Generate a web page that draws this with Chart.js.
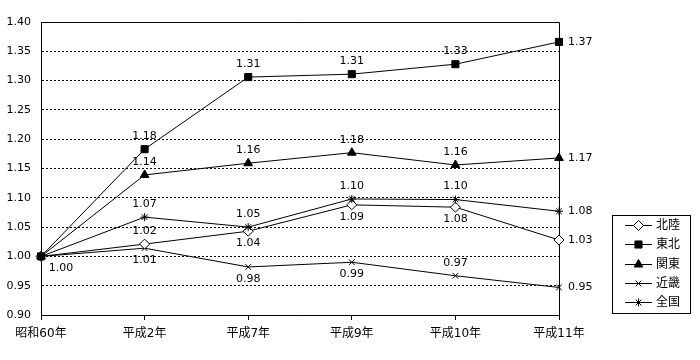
<!DOCTYPE html>
<html><head><meta charset="utf-8">
<script src="https://cdn.jsdelivr.net/npm/chart.js@4/dist/chart.umd.min.js"></script>
<style>html,body{margin:0;padding:0;background:#fff}#wrap{width:700px;height:360px;position:relative}</style>
</head><body><div id="wrap"><canvas id="c"></canvas></div>
<script>
// ---- data ----
const categories = ['昭和60年', '平成2年', '平成7年', '平成9年', '平成10年', '平成11年'];
const seriesNames = ['北陸', '東北', '関東', '近畿', '全国'];
const hokuriku = [1.00, 1.021, 1.043, 1.088, 1.084, 1.028];
const tohoku   = [1.00, 1.183, 1.306, 1.311, 1.328, 1.366];
const kanto    = [1.00, 1.139, 1.159, 1.177, 1.156, 1.168];
const kinki    = [1.00, 1.014, 0.982, 0.990, 0.967, 0.947];
const zenkoku  = [1.00, 1.067, 1.050, 1.098, 1.097, 1.077];
const yMin = 0.90, yMax = 1.40, yStep = 0.05;

// ---- style ----
const NUM_FONT = '11px "DejaVu Sans", "Noto Sans CJK JP", sans-serif';
const JP_FONT = '12px "DejaVu Sans", "Noto Sans CJK JP", sans-serif';
const styles = [
  {pointStyle: 'rectRot', radius: 5, fill: '#ffffff', order: 1},
  {pointStyle: 'rect', radius: 5, fill: '#000000', order: -1},
  {pointStyle: 'triangle', radius: 5, fill: '#000000', order: 2},
  {pointStyle: 'crossRot', radius: 4, fill: '#000000', order: 3},
  {pointStyle: 'star', radius: 4, fill: '#000000', order: 0}
];
const labelPos = [
  ['belowright', 'above', 'below', 'below', 'below', 'right'],
  [null, 'above', 'above', 'above', 'above', 'right'],
  [null, 'above', 'above', 'above', 'above', 'right'],
  [null, 'below', 'below', 'below', 'above', 'right'],
  [null, 'above', 'above', 'above', 'above', 'right']
];
const allSeries = [hokuriku, tohoku, kanto, kinki, zenkoku];

const datasets = allSeries.map((vals, i) => ({
  label: seriesNames[i],
  data: vals,
  order: styles[i].order,
  borderColor: '#000',
  borderWidth: 1,
  backgroundColor: styles[i].fill,
  pointStyle: styles[i].pointStyle,
  pointRadius: styles[i].radius,
  pointHoverRadius: styles[i].radius,
  pointBackgroundColor: styles[i].fill,
  pointBorderColor: '#000',
  pointBorderWidth: 1,
  tension: 0,
  clip: false,
  fill: false
}));

const framePlugin = {
  id: 'frame',
  beforeDatasetsDraw(chart) {
    const {ctx, chartArea: a} = chart;
    ctx.save();
    ctx.strokeStyle = '#000';
    ctx.lineWidth = 1;
    ctx.beginPath();
    ctx.moveTo(Math.round(a.left) + 0.5, Math.round(a.bottom) + 0.5);
    ctx.lineTo(Math.round(a.left) + 0.5, Math.round(a.top) + 0.5);
    ctx.lineTo(Math.round(a.right) + 0.5, Math.round(a.top) + 0.5);
    ctx.lineTo(Math.round(a.right) + 0.5, Math.round(a.bottom) + 0.5);
    ctx.stroke();
    ctx.restore();
  }
};

const labelPlugin = {
  id: 'valueLabels',
  afterDatasetsDraw(chart) {
    const ctx = chart.ctx;
    ctx.save();
    ctx.font = NUM_FONT;
    ctx.fillStyle = '#000';
    chart.data.datasets.forEach((ds, i) => {
      const meta = chart.getDatasetMeta(i);
      meta.data.forEach((pt, j) => {
        const pos = labelPos[i][j];
        if (!pos) return;
        const txt = ds.data[j].toFixed(2);
        let x = pt.x, y = pt.y;
        if (pos === 'above') { ctx.textAlign = 'center'; ctx.textBaseline = 'middle'; y -= 13; }
        else if (pos === 'below') { ctx.textAlign = 'center'; ctx.textBaseline = 'middle'; y += 12; }
        else if (pos === 'right') { ctx.textAlign = 'left'; ctx.textBaseline = 'middle'; x += 9; }
        else if (pos === 'belowright') { ctx.textAlign = 'center'; ctx.textBaseline = 'middle'; x += 20; y += 12; }
        ctx.fillText(txt, x, y);
      });
    });
    ctx.restore();
  }
};

const legendPlugin = {
  id: 'boxLegend',
  afterDraw(chart) {
    const ctx = chart.ctx;
    const box = {x: 612.5, y: 215.5, w: 78, h: 98};
    ctx.save();
    ctx.fillStyle = '#fff';
    ctx.fillRect(box.x, box.y, box.w, box.h);
    ctx.strokeStyle = '#000';
    ctx.lineWidth = 1;
    ctx.strokeRect(box.x, box.y, box.w, box.h);
    ctx.font = JP_FONT;
    ctx.textAlign = 'left';
    ctx.textBaseline = 'middle';
    chart.data.datasets.forEach((ds, i) => {
      const y = Math.round(225 + i * 19.3) + 0.5;
      ctx.beginPath();
      ctx.moveTo(625, y);
      ctx.lineTo(652, y);
      ctx.strokeStyle = '#000';
      ctx.lineWidth = 1;
      ctx.stroke();
      ctx.fillStyle = ds.pointBackgroundColor;
      ctx.strokeStyle = '#000';
      Chart.helpers.drawPoint(ctx, {pointStyle: ds.pointStyle, radius: ds.pointRadius, borderWidth: 1, rotation: 0}, 638.5, y);
      ctx.fillStyle = '#000';
      ctx.fillText(ds.label, 656, y);
    });
    ctx.restore();
  }
};

new Chart(document.getElementById('c'), {
  type: 'line',
  data: {labels: categories, datasets},
  options: {
    responsive: true,
    maintainAspectRatio: false,
    animation: false,
    events: [],
    layout: {padding: {top: 22, right: 141, left: 0, bottom: 0}},
    plugins: {legend: {display: false}, tooltip: {enabled: false}},
    scales: {
      x: {
        offset: false,
        grid: {display: true, drawOnChartArea: false, drawTicks: true, tickLength: 5, color: '#000', tickColor: '#000'},
        border: {display: true, color: '#000', width: 1},
        ticks: {color: '#000', font: {family: '"DejaVu Sans", "Noto Sans CJK JP", sans-serif', size: 12}, padding: 7, maxRotation: 0, autoSkip: false},
        afterFit(s) { s.height = 45; }
      },
      y: {
        min: yMin, max: yMax,
        grid: {display: true, drawTicks: false, color: '#000', lineWidth: 1},
        border: {display: true, color: '#000', width: 1, dash: [2, 2]},
        ticks: {stepSize: yStep, color: '#000', padding: 10, font: {family: '"DejaVu Sans", "Noto Sans CJK JP", sans-serif', size: 11},
          callback: v => Number(v).toFixed(2)},
        afterFit(s) { s.width = 41; }
      }
    }
  },
  plugins: [framePlugin, labelPlugin, legendPlugin]
});
</script>
</body></html>
